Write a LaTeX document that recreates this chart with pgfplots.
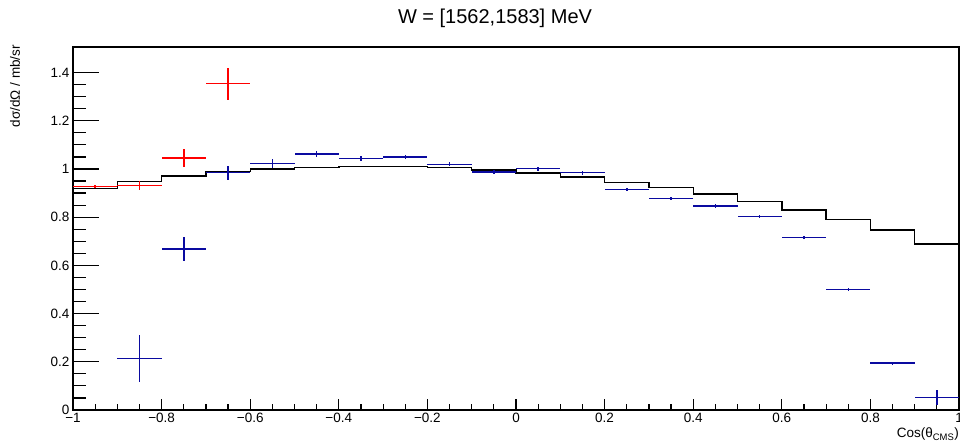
\documentclass[border=0pt]{standalone}
\usepackage{pgfplots}
\pgfplotsset{compat=1.18}
\usepackage{fontspec}
\setmainfont{Liberation Sans}
\definecolor{rred}{RGB}{255,0,0}
\definecolor{rblue}{RGB}{10,10,160}
\begin{document}
\begin{tikzpicture}
\path[use as bounding box] (-73pt,-37pt) rectangle (887pt,410pt);
\begin{axis}[
  scale only axis, width=886pt, height=363pt,
  at={(0pt,0pt)}, anchor=south west,
  xmin=-1, xmax=1, ymin=0, ymax=1.506,
  axis line style={line width=1.2pt},
  tick align=inside, xtick pos=bottom, ytick pos=left,
  xtick={-1,-0.8,-0.6,-0.4,-0.2,0,0.2,0.4,0.6,0.8,1},
  xticklabels={−1,−0.8,−0.6,−0.4,−0.2,0,0.2,0.4,0.6,0.8,1},
  ytick={0,0.2,0.4,0.6,0.8,1,1.2,1.4},
  yticklabels={0,0.2,0.4,0.6,0.8,1,1.2,1.4},
  minor x tick num=3, minor y tick num=3,
  tick style={line width=1.2pt, black},
  xtick style={/pgfplots/major tick length=11pt,/pgfplots/minor tick length=6pt},
  ytick style={/pgfplots/major tick length=26pt,/pgfplots/minor tick length=13pt},
  ticklabel style={font=\fontsize{13.5}{15}\selectfont},
  /pgf/number format/assume math mode=true,
  clip=false,
]
\addplot[const plot, black, line width=1.4pt] coordinates {
(-1,0.919) (-0.9,0.947) (-0.8,0.971) (-0.7,0.989) (-0.6,1.000)
(-0.5,1.005) (-0.4,1.011) (-0.3,1.010) (-0.2,1.006) (-0.1,0.996)
(0,0.983) (0.1,0.967) (0.2,0.945) (0.3,0.922) (0.4,0.896)
(0.5,0.865) (0.6,0.829) (0.7,0.790) (0.8,0.746) (0.9,0.688) (1,0.688)};
\addplot[color=rblue, draw=none, mark=none,
  error bars/.cd, x dir=both, x explicit, y dir=both, y explicit,
  error mark=none, error bar style={draw=rblue, color=rblue, line width=1.5pt}]
  table[x=x, y=y, x error=ex, y error=ey] {
x y ex ey
-0.85 0.214 0.05 0.096
-0.75 0.668 0.05 0.048
-0.65 0.985 0.05 0.029
-0.55 1.023 0.05 0.020
-0.45 1.062 0.05 0.013
-0.35 1.043 0.05 0.010
-0.25 1.050 0.05 0.009
-0.15 1.019 0.05 0.008
-0.05 0.988 0.05 0.008
0.05 1.001 0.05 0.008
0.15 0.985 0.05 0.008
0.25 0.914 0.05 0.007
0.35 0.877 0.05 0.007
0.45 0.846 0.05 0.007
0.55 0.802 0.05 0.007
0.65 0.716 0.05 0.007
0.75 0.499 0.05 0.007
0.85 0.194 0.05 0.006
0.95 0.051 0.05 0.030
};
\addplot[color=rred, draw=none, mark=none,
  error bars/.cd, x dir=both, x explicit, y dir=both, y explicit,
  error mark=none, error bar style={draw=rred, color=rred, line width=1.5pt}]
  table[x=x, y=y, x error=ex, y error=ey] {
x y ex ey
-0.95 0.927 0.05 0.008
-0.85 0.931 0.05 0.020
-0.75 1.046 0.05 0.037
-0.65 1.354 0.05 0.066
};
\node[anchor=north east, inner sep=0pt, font=\fontsize{13.5}{15}\selectfont]
  at ([yshift=-18pt]axis description cs:1,0) {Cos(θ\textsubscript{CMS})};
\node[anchor=east, rotate=90, inner sep=0pt, font=\fontsize{13.5}{15}\selectfont]
  at ([xshift=-58pt, yshift=2pt]axis description cs:0,1) {dσ/dΩ / mb/sr};
\end{axis}
\node[font=\fontsize{20}{24}\selectfont] at (422pt,392pt) {W = [1562,1583] MeV};
\end{tikzpicture}
\end{document}
